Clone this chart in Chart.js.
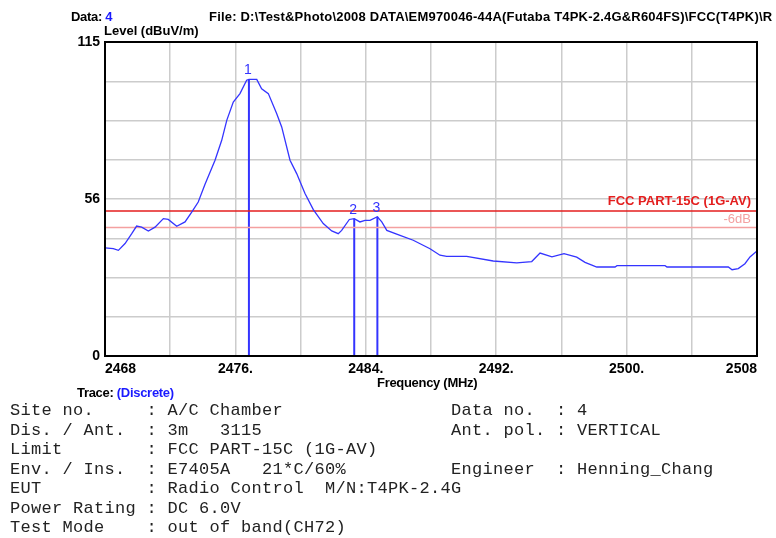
<!DOCTYPE html>
<html lang="en">
<head>
<meta charset="UTF-8">
<title>Level vs Frequency</title>
<style>
  body { margin: 0; background: #fff; }
  #wrap { position: relative; width: 776px; height: 538px; overflow: hidden; background: #fff; }
  #wrap canvas { position: absolute; left: 0; top: 0; }
  .lbl { position: absolute; font-family: "Liberation Sans", Arial, sans-serif; font-weight: bold; font-size: 13px; line-height: 15px; white-space: nowrap; color: #000; letter-spacing: -0.3px; }
  .blue { color: #1a1aff; }
  #info { position: absolute; left: 10px; top: 401px; margin: 0; font-family: "Liberation Mono", monospace; font-size: 17px; line-height: 19.5px; letter-spacing: 0.3px; color: #222; }
</style>
</head>
<body>
<div id="wrap">
  <canvas id="myChart" width="776" height="538"></canvas>
  <div class="lbl" style="left:71px; top:9px;">Data: <span class="blue">4</span></div>
  <div class="lbl" style="left:209px; top:9px; letter-spacing:0.2px;">File: D:\Test&amp;Photo\2008 DATA\EM970046-44A(Futaba T4PK-2.4G&amp;R604FS)\FCC(T4PK)\R</div>
  <div class="lbl" style="left:104px; top:23px; letter-spacing:0;">Level (dBuV/m)</div>
  <div class="lbl" style="left:377px; top:375px;">Frequency (MHz)</div>
  <div class="lbl" style="left:77px; top:385px;">Trace: <span class="blue">(Discrete)</span></div>
<pre id="info">Site no.     : A/C Chamber                Data no.  : 4
Dis. / Ant.  : 3m   3115                  Ant. pol. : VERTICAL
Limit        : FCC PART-15C (1G-AV)
Env. / Ins.  : E7405A   21*C/60%          Engineer  : Henning_Chang
EUT          : Radio Control  M/N:T4PK-2.4G
Power Rating : DC 6.0V
Test Mode    : out of band(CH72)</pre>
</div>
<script src="https://cdn.jsdelivr.net/npm/chart.js"></script>
<script>
// trace
const freqMHz = [2468.00, 2468.51, 2468.82, 2469.23, 2469.64, 2469.94, 2470.25, 2470.66, 2471.07, 2471.58,
  2471.88, 2472.40, 2472.91, 2473.32, 2473.72, 2474.13, 2474.75, 2475.16, 2475.47, 2475.87,
  2476.28, 2476.69, 2476.83, 2477.31, 2477.61, 2478.02, 2478.53, 2478.84, 2479.35, 2479.76,
  2480.27, 2480.78, 2481.39, 2481.91, 2482.31, 2482.52, 2482.99, 2483.29, 2483.64, 2483.95,
  2484.26, 2484.71, 2484.98, 2485.29, 2486.10, 2486.91, 2487.94, 2488.55, 2488.96, 2490.19,
  2491.82, 2493.26, 2494.18, 2494.69, 2495.42, 2496.16, 2496.94, 2497.45, 2498.17, 2499.29,
  2499.41, 2502.36, 2502.48, 2506.24, 2506.47, 2506.85, 2507.26, 2507.57, 2508.00];
const levelDb = [39.6, 39.3, 38.7, 41.2, 44.8, 47.6, 47.2, 45.8, 47.2, 50.3,
  50.0, 47.5, 49.1, 52.7, 56.4, 62.8, 71.7, 79.0, 86.3, 93.0,
  96.1, 101.0, 101.3, 101.3, 97.9, 96.1, 88.8, 83.9, 71.7, 66.8,
  59.5, 53.6, 48.5, 45.8, 44.8, 46.0, 50.0, 50.3, 49.1, 49.7,
  49.7, 51.0, 49.1, 46.0, 44.2, 42.4, 39.3, 36.9, 36.5, 36.5,
  34.8, 34.1, 34.6, 37.7, 36.3, 37.5, 36.2, 34.3, 32.6, 32.6,
  33.1, 33.1, 32.6, 32.6, 31.6, 32.0, 33.8, 36.3, 38.5];

// markers
const markerNames = ['1', '2', '3'];
const markerFreq = [2476.83, 2483.29, 2484.71];
const markerLevel = [101.3, 50.3, 51.0];

// limit lines
const limitLevel = 53.1;
const marginLevel = 47.1;
const limitName = 'FCC PART-15C (1G-AV)';
const marginName = '-6dB';

// axes
const xMin = 2468, xMax = 2508, xStep = 4;
const xTickText = { 2468: '2468', 2476: '2476.', 2484: '2484.', 2492: '2492.', 2500: '2500.', 2508: '2508' };
const yMin = 0, yMax = 115, yDivs = 8;
const yTickText = ['0', '', '', '', '56', '', '', '', '115'];

const traceColor = '#3434ff';
const limitColor = '#e41e1e';
const marginColor = '#f4a0a0';

let tracePts = freqMHz.map((f, i) => ({ x: f, y: levelDb[i] }));

let markerSets = markerFreq.map((f, i) => ({
  data: [{ x: f, y: yMin }, { x: f, y: markerLevel[i] }],
  borderColor: traceColor,
  borderWidth: 2,
  pointRadius: 0
}));

const frameAndText = {
  id: 'frameAndText',
  afterDatasetsDraw(chart) {
    const c = chart.ctx, a = chart.chartArea;
    const xs = chart.scales.x, ys = chart.scales.y;
    c.save();
    // marker numbers
    c.fillStyle = traceColor;
    c.font = '14px "Liberation Sans", Arial';
    c.textAlign = 'center';
    c.textBaseline = 'bottom';
    for (let i = 0; i < markerNames.length; i++) {
      c.fillText(markerNames[i], xs.getPixelForValue(markerFreq[i]) - 1, ys.getPixelForValue(markerLevel[i]) - 2);
    }
    // limit names
    c.textAlign = 'right';
    c.font = 'bold 13px "Liberation Sans", Arial';
    c.fillStyle = limitColor;
    c.fillText(limitName, a.right - 6, ys.getPixelForValue(limitLevel) - 3);
    c.fillStyle = marginColor;
    c.textBaseline = 'top';
    c.font = '13px "Liberation Sans", Arial';
    c.fillText(marginName, a.right - 6, ys.getPixelForValue(limitLevel) + 2);
    // plot frame
    c.strokeStyle = '#000';
    c.lineWidth = 2;
    c.strokeRect(a.left, a.top, a.right - a.left, a.bottom - a.top);
    c.restore();
  }
};

const ctx = document.getElementById('myChart');
new Chart(ctx, {
  type: 'line',
  data: {
    datasets: [{
      data: tracePts,
      borderColor: traceColor,
      borderWidth: 1.3,
      pointRadius: 0
    }, {
      data: [{ x: xMin, y: limitLevel }, { x: xMax, y: limitLevel }],
      borderColor: limitColor,
      borderWidth: 1.5,
      pointRadius: 0
    }, {
      data: [{ x: xMin, y: marginLevel }, { x: xMax, y: marginLevel }],
      borderColor: marginColor,
      borderWidth: 1.5,
      pointRadius: 0
    }].concat(markerSets)
  },
  options: {
    responsive: false,
    animation: false,
    layout: { padding: { left: 0, top: 42, right: 19, bottom: 154 } },
    elements: { line: { tension: 0 } },
    plugins: { legend: { display: false }, tooltip: { enabled: false } },
    scales: {
      x: {
        type: 'linear',
        min: xMin,
        max: xMax,
        afterFit: (s) => { s.height = 28; },
        grid: { color: '#cccccc', lineWidth: 1.5, drawTicks: false },
        border: { display: false },
        ticks: {
          stepSize: xStep,
          autoSkip: false,
          maxRotation: 0,
          align: 'inner',
          padding: 5,
          color: '#000',
          font: { family: 'Liberation Sans', size: 14, weight: 'bold' },
          callback: (v) => xTickText[v] || ''
        }
      },
      y: {
        type: 'linear',
        min: yMin,
        max: yMax,
        afterFit: (s) => { s.width = 105; },
        afterBuildTicks: (s) => {
          s.ticks = yTickText.map((t, i) => ({ value: yMin + (yMax - yMin) * i / yDivs }));
        },
        grid: { color: '#cccccc', lineWidth: 1.5, drawTicks: false },
        border: { display: false },
        ticks: {
          padding: 5,
          color: '#000',
          font: { family: 'Liberation Sans', size: 14, weight: 'bold' },
          callback: (v, i) => yTickText[i]
        }
      }
    }
  },
  plugins: [frameAndText]
});
</script>
</body>
</html>
